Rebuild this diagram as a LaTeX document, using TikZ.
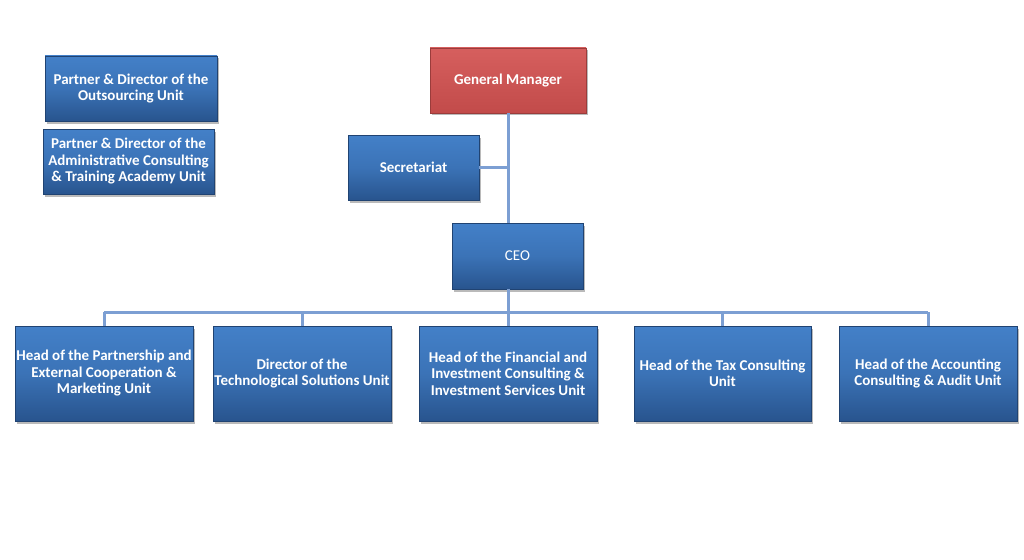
\documentclass[tikz,border=0pt]{standalone}
\usepackage{fontspec}
\setmainfont{Carlito}
\usetikzlibrary{calc, positioning, shadows}
\definecolor{boxtop}{HTML}{4380C8}
\definecolor{boxbot}{HTML}{28548E}
\definecolor{gmtop}{HTML}{D65F5E}
\definecolor{gmbot}{HTML}{C24B4A}
\definecolor{linkblue}{HTML}{7C9FD3}
\tikzset{
	unit/.style={rectangle, draw=boxbot!80!black, line width=0.6pt, top color=boxtop, bottom color=boxbot, middle color=boxtop!70!boxbot,
		text=white, font=\fontsize{15}{16.5}\selectfont\bfseries, align=center, inner sep=0pt,
		drop shadow={shadow xshift=1.5pt, shadow yshift=-2.5pt, opacity=0.45, fill=black!60}},
	gm/.style={unit, top color=gmtop, bottom color=gmbot, middle color=gmtop!50!gmbot, draw=gmbot!80!black},
	link/.style={draw=linkblue, line width=3pt}
}

\begin{document}
\begin{tikzpicture}[x=1pt,y=-1pt]
			\useasboundingbox[fill=white] (0,0) rectangle (1024,559);
			% top level
			\node[gm, minimum width=156pt, minimum height=65pt] (gm) at (508,80.5) {General Manager};
			\node[unit, minimum width=131pt, minimum height=65pt] (sec) at (413.5,167.5) {Secretariat};
			\node[unit, minimum width=131pt, minimum height=66pt, font=\fontsize{15}{16.5}\selectfont] (ceo) at (517.5,256) {CEO};
			% partners
			\node[unit, minimum width=172pt, minimum height=65pt] (out) at (131,88.5) {Partner \& Director of the\\Outsourcing Unit};
			\node[unit, minimum width=171pt, minimum height=65pt] (adm) at (128.5,161.5) {Partner \& Director of the\\Administrative Consulting\\\& Training Academy Unit};
			% units
			\node[unit, minimum width=178pt, minimum height=95pt] (mkt) at (104,373.5) {Head of the Partnership and\\External Cooperation \&\\Marketing Unit};
			\node[unit, minimum width=178pt, minimum height=95pt] (tech) at (302,373.5) {Director of the\\Technological Solutions Unit};
			\node[unit, minimum width=178pt, minimum height=95pt] (fin) at (508,373.5) {Head of the Financial and\\Investment Consulting \&\\Investment Services Unit};
			\node[unit, minimum width=177pt, minimum height=95pt] (tax) at (722.5,373.5) {Head of the Tax Consulting\\Unit};
			\node[unit, minimum width=178pt, minimum height=95pt] (acc) at (928,373.5) {Head of the Accounting\\Consulting \& Audit Unit};

			\coordinate (bus) at (508,312);
			\path[link]
			(gm.south) edge (gm.south |- ceo.north)
			(sec.east) edge (sec.east -| gm.south)
			(gm.south |- ceo.south) edge (bus)
			(bus -| mkt.north) edge (bus -| acc.north)
			(bus -| mkt.north) edge (mkt.north)
			(bus -| tech.north) edge (tech.north)
			(bus) edge (fin.north)
			(bus -| tax.north) edge (tax.north)
			(bus -| acc.north) edge (acc.north)
			;
		\end{tikzpicture}
\end{document}
